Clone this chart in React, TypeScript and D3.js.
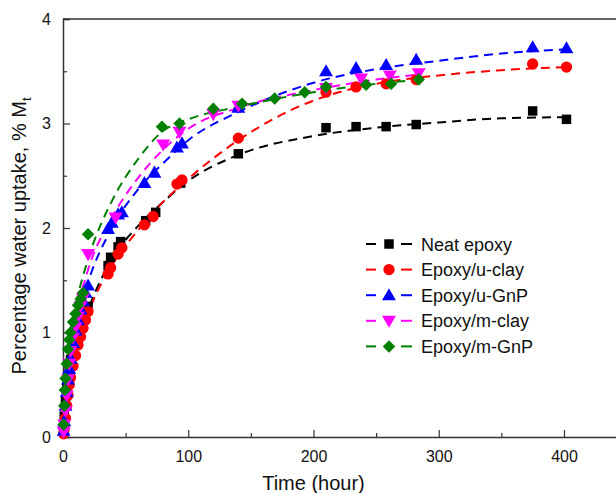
import React, { useEffect, useRef } from "react";
import * as d3 from "d3";

// measured points [time (h), uptake %]
const neatEpoxy = [
  [0.5, 0.08], [1, 0.2], [2, 0.35], [3, 0.48], [4, 0.58], [5, 0.66], [6, 0.74], [8, 0.86],
  [10, 0.96], [12, 1.04], [14, 1.1], [16, 1.16], [20, 1.25], [36, 1.64], [38, 1.72],
  [44, 1.82], [46, 1.87], [66, 2.07], [74, 2.15], [94, 2.43], [140, 2.71], [210, 2.96],
  [234, 2.97], [258, 2.97], [282, 2.99], [375, 3.12], [402, 3.04],
];
const uClay = [
  [0.5, 0.03], [1, 0.08], [2, 0.18], [3, 0.3], [4, 0.4], [5, 0.5], [6, 0.57], [8, 0.68],
  [10, 0.78], [12, 0.88], [14, 0.96], [16, 1.04], [18, 1.12], [20, 1.2], [36, 1.56],
  [38, 1.62], [44, 1.75], [47, 1.81], [65, 2.03], [72, 2.11], [91, 2.42], [95, 2.46],
  [140, 2.86], [210, 3.3], [234, 3.35], [258, 3.38], [282, 3.42], [375, 3.57], [402, 3.54],
];
const uGnP = [
  [0.5, 0.06], [1, 0.15], [2, 0.3], [3, 0.43], [4, 0.55], [5, 0.65], [6, 0.75], [8, 0.9],
  [10, 1.02], [12, 1.12], [14, 1.22], [16, 1.3], [18, 1.38], [20, 1.45], [36, 1.99],
  [39, 2.05], [44, 2.13], [47, 2.15], [65, 2.43], [73, 2.53], [91, 2.77], [95, 2.81],
  [140, 3.15], [210, 3.5], [234, 3.53], [258, 3.56], [282, 3.61], [375, 3.73], [402, 3.72],
];
const mClay = [
  [0.5, 0.05], [1, 0.12], [2, 0.25], [3, 0.4], [4, 0.55], [5, 0.7], [6, 0.82], [8, 0.95],
  [10, 1.05], [12, 1.15], [14, 1.25], [16, 1.33], [20, 1.75], [42, 2.1], [80, 2.8],
  [93, 2.92], [120, 3.09], [140, 3.17], [210, 3.34], [238, 3.43], [261, 3.46], [284, 3.48],
];
const mGnP = [
  [0.5, 0.12], [1, 0.3], [1.5, 0.45], [2, 0.56], [3, 0.7], [4, 0.84], [5, 0.93], [6, 1.0],
  [8, 1.1], [10, 1.18], [12, 1.26], [14, 1.32], [16, 1.38], [20, 1.94], [79, 2.97],
  [93, 3.0], [120, 3.14], [143, 3.19], [169, 3.24], [193, 3.3], [210, 3.35], [242, 3.37],
  [262, 3.38], [284, 3.42],
];

// dashed fitted curves
const neatFit = [[0, 0], [5, 0.62], [10, 0.88], [20, 1.22], [40, 1.72], [60, 2.02], [80, 2.25], [100, 2.45], [140, 2.7], [200, 2.88], [250, 2.96], [300, 3.01], [350, 3.05], [402, 3.06]];
const uClayFit = [[0, 0], [5, 0.52], [10, 0.8], [20, 1.18], [40, 1.66], [60, 1.98], [80, 2.25], [100, 2.47], [140, 2.84], [200, 3.22], [250, 3.38], [300, 3.46], [350, 3.51], [402, 3.54]];
const uGnPFit = [[0, 0], [5, 0.72], [10, 1.05], [20, 1.48], [40, 2.02], [60, 2.37], [80, 2.62], [100, 2.84], [140, 3.11], [200, 3.39], [250, 3.52], [300, 3.6], [350, 3.67], [402, 3.71]];
const mClayFit = [[0, 0], [5, 0.8], [10, 1.15], [20, 1.6], [40, 2.12], [60, 2.48], [80, 2.75], [100, 2.95], [140, 3.15], [200, 3.32], [250, 3.42], [286, 3.47]];
const mGnPFit = [[0, 0], [5, 0.92], [10, 1.25], [20, 1.7], [40, 2.28], [60, 2.66], [80, 2.93], [100, 3.04], [140, 3.16], [200, 3.3], [250, 3.38], [286, 3.42]];

const seriesNames = ["Neat epoxy", "Epoxy/u-clay", "Epoxy/u-GnP", "Epoxy/m-clay", "Epoxy/m-GnP"];
const seriesColors = ["#000000", "#ff0000", "#0000ff", "#ff00ff", "#008000"];
const seriesPoints = [neatEpoxy, uClay, uGnP, mClay, mGnP];
const seriesFits = [neatFit, uClayFit, uGnPFit, mClayFit, mGnPFit];
const xTicks = [0, 100, 200, 300, 400];
const yTicks = [0, 1, 2, 3, 4];

const W = 616;
const H = 493;

const markerPath = (i: number) => {
  if (i === 0) return d3.symbol(d3.symbolSquare, 90)();
  if (i === 1) return d3.symbol(d3.symbolCircle, 100)();
  if (i === 4) return d3.symbol(d3.symbolSquare, 78)();
  return d3.symbol(d3.symbolTriangle, 84)();
};

// per-series extra transform: triangles nudged, m-clay flipped, m-GnP turned into a diamond
const markerTweak = (i: number) =>
  i === 2 ? " translate(0,1)" : i === 3 ? " translate(0,-1) rotate(180)" : i === 4 ? " rotate(45)" : "";

const App = () => {
  const ref = useRef<SVGSVGElement>(null);

  useEffect(() => {
    const svg = d3.select(ref.current);
    svg.selectAll("*").remove();

    const x = d3.scaleLinear().domain([0, 450]).range([63, 626.6]);
    const y = d3.scaleLinear().domain([0, 4]).range([437, 19]);
    const font = "Liberation Sans, Arial, sans-serif";
    const axisColor = "#333";

    // top frame line
    svg.append("line").attr("x1", x(0)).attr("x2", W).attr("y1", y(4)).attr("y2", y(4))
      .attr("stroke", axisColor).attr("stroke-width", 1.5);

    const xAxis = d3.axisBottom(x).tickValues(xTicks).tickSize(-7).tickPadding(14).tickFormat(d3.format("d"));
    const gx = svg.append("g").attr("transform", `translate(0,${y(0)})`).call(xAxis);
    const xMinor = d3.axisBottom(x).tickValues([50, 150, 250, 350]).tickSize(-4).tickFormat(() => "");
    svg.append("g").attr("transform", `translate(0,${y(0)})`).call(xMinor).select(".domain").remove();

    const yAxis = d3.axisLeft(y).tickValues(yTicks).tickSize(-7).tickPadding(12).tickFormat(d3.format("d"));
    const gy = svg.append("g").attr("transform", `translate(${x(0)},0)`).call(yAxis);
    const yMinor = d3.axisLeft(y).tickValues([0.5, 1.5, 2.5, 3.5]).tickSize(-4).tickFormat(() => "");
    svg.append("g").attr("transform", `translate(${x(0)},0)`).call(yMinor).select(".domain").remove();

    [gx, gy].forEach((g) => {
      g.select(".domain").attr("stroke", axisColor).attr("stroke-width", 1.5);
      g.selectAll(".tick text").attr("font-family", font).attr("font-size", 16).attr("fill", "#111");
    });
    svg.selectAll(".tick line").attr("stroke", axisColor).attr("stroke-width", 1.2);

    const line = d3.line<number[]>().x((d) => x(d[0])).y((d) => y(d[1])).curve(d3.curveMonotoneX);

    seriesFits.forEach((fit, i) => {
      svg.append("path").attr("d", line(fit) as string).attr("fill", "none")
        .attr("stroke", seriesColors[i]).attr("stroke-width", 2).attr("stroke-dasharray", "9,6");
    });

    seriesPoints.forEach((pts, i) => {
      svg.append("g").selectAll("path").data(pts).join("path")
        .attr("d", markerPath(i))
        .attr("transform", (d) => `translate(${x(d[0])},${y(d[1])})${markerTweak(i)}`)
        .attr("fill", seriesColors[i]);
    });

    // legend
    const lg = svg.append("g").attr("transform", "translate(366,244)");
    seriesNames.forEach((name, i) => {
      const row = lg.append("g").attr("transform", `translate(0,${i * 25.6})`);
      row.append("line").attr("x1", 0).attr("x2", 10).attr("stroke", seriesColors[i]).attr("stroke-width", 2);
      row.append("line").attr("x1", 35).attr("x2", 46).attr("stroke", seriesColors[i]).attr("stroke-width", 2);
      row.append("path").attr("d", markerPath(i))
        .attr("transform", `translate(23,0)${markerTweak(i)}`)
        .attr("fill", seriesColors[i]);
      row.append("text").attr("x", 55).attr("y", 6.5).text(name)
        .attr("font-family", font).attr("font-size", 18).attr("fill", "#111");
    });

    // axis titles
    svg.append("text").attr("x", x(200)).attr("y", 490).attr("text-anchor", "middle")
      .attr("font-family", font).attr("font-size", 20).attr("fill", "#111").text("Time (hour)");
    const yt = svg.append("text").attr("transform", `translate(26,${(y(0) + y(4)) / 2 + 8}) rotate(-90)`)
      .attr("text-anchor", "middle").attr("font-family", font).attr("font-size", 20).attr("fill", "#111");
    yt.append("tspan").text("Percentage water uptake, % M");
    yt.append("tspan").attr("font-size", 13).attr("dy", 5).text("t");
  }, []);

  return (
    <svg ref={ref} width={W} height={H} style={{ position: "absolute", left: 0, top: 0, background: "#fff" }} />
  );
};

export default App;
